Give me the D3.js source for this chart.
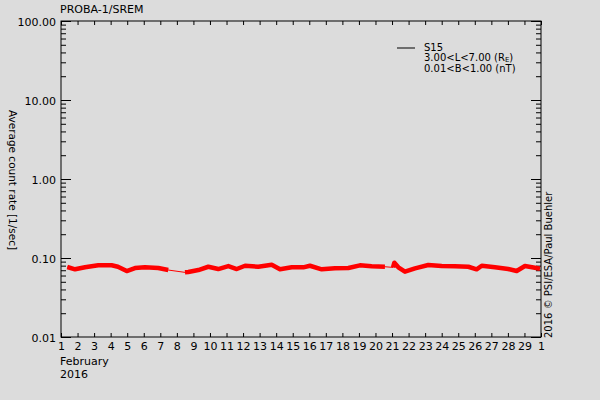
<!DOCTYPE html>
<html>
<head>
<meta charset="utf-8">
<script src="https://cdn.jsdelivr.net/npm/d3@7"></script>
<style>
  body { margin: 0; background: #dcdcdc; }
  svg text { font-family: "DejaVu Sans", sans-serif; font-size: 11px; fill: #000; }
</style>
</head>
<body>
<svg id="chart" width="600" height="400"></svg>
<script>
// Data (day of February 2016, count rate 1/sec)
const days = [1.38, 1.85, 2.45, 3.25, 4.06, 4.44, 4.97, 5.47, 6.07, 6.88, 7.48,
  8.49, 8.69, 9.30, 9.90, 10.50, 11.11, 11.62, 12.12, 12.92, 13.73, 14.23, 14.94,
  15.64, 16.04, 16.75, 17.55, 18.36, 19.06, 19.77, 20.57,
  21.06, 21.14, 21.38, 21.78, 22.39, 23.19, 24.00, 24.80, 25.61, 26.11, 26.42,
  27.22, 28.02, 28.53, 29.03, 29.63, 29.94];
const rates = [0.0769, 0.0719, 0.0762, 0.0808, 0.0808, 0.0775, 0.0684, 0.0746, 0.0762, 0.0746, 0.0704,
  0.0658, 0.0664, 0.0704, 0.0775, 0.0725, 0.0791, 0.0725, 0.0798, 0.0775, 0.0822, 0.0719, 0.0762,
  0.0762, 0.0798, 0.0719, 0.0740, 0.0746, 0.0808, 0.0784, 0.0775,
  0.0760, 0.0872, 0.0762, 0.0670, 0.0740, 0.0815, 0.0791, 0.0784, 0.0775, 0.0719, 0.0798,
  0.0762, 0.0725, 0.0684, 0.0791, 0.0753, 0.0731];
// data gaps (thin connecting line) start after these days
const gapStarts = [7.48, 20.57];

const dayTicks = d3.range(1, 31);
const decadeTicks = [0.01, 0.1, 1, 10, 100];
const minorTicks = [];
decadeTicks.slice(0, -1).forEach(d => { for (let k = 2; k <= 9; k++) minorTicks.push(d * k); });

const plot = { left: 61, right: 541, top: 21, bottom: 337 };
const svg = d3.select("#chart");

const x = d3.scaleLinear().domain([1, 30]).range([plot.left, plot.right]);
const y = d3.scaleLog().domain([0.01, 100]).range([plot.bottom, plot.top]);

// frame
svg.append("rect")
    .attr("x", plot.left).attr("y", plot.top)
    .attr("width", plot.right - plot.left).attr("height", plot.bottom - plot.top)
    .attr("fill", "none").attr("stroke", "#000").attr("stroke-width", 1);

// bottom axis with day labels
const xAxis = svg.append("g")
    .attr("transform", `translate(0,${plot.bottom})`)
    .call(d3.axisBottom(x).tickValues(dayTicks).tickSizeInner(-4).tickSizeOuter(0)
        .tickPadding(5).tickFormat(d => d > 29 ? d - 29 : d));
xAxis.select(".domain").remove();

// top axis, ticks only
const xTop = svg.append("g")
    .attr("transform", `translate(0,${plot.top})`)
    .call(d3.axisTop(x).tickValues(dayTicks).tickSizeInner(-4).tickSizeOuter(0).tickFormat(""));
xTop.select(".domain").remove();

// left axis: decades
const yAxis = svg.append("g")
    .attr("transform", `translate(${plot.left},0)`)
    .call(d3.axisLeft(y).tickValues(decadeTicks).tickSizeInner(-10).tickSizeOuter(0)
        .tickPadding(5).tickFormat(d3.format(".2f")));
yAxis.select(".domain").remove();
yAxis.selectAll("text").attr("dy", "0.4em");

const yMinor = svg.append("g")
    .attr("transform", `translate(${plot.left},0)`)
    .call(d3.axisLeft(y).tickValues(minorTicks).tickSizeInner(-5).tickSizeOuter(0).tickFormat(""));
yMinor.select(".domain").remove();

// right axis, ticks only
const yRight = svg.append("g")
    .attr("transform", `translate(${plot.right},0)`)
    .call(d3.axisRight(y).tickValues(decadeTicks).tickSizeInner(-10).tickSizeOuter(0).tickFormat(""));
yRight.select(".domain").remove();
const yRightMinor = svg.append("g")
    .attr("transform", `translate(${plot.right},0)`)
    .call(d3.axisRight(y).tickValues(minorTicks).tickSizeInner(-5).tickSizeOuter(0).tickFormat(""));
yRightMinor.select(".domain").remove();

svg.selectAll(".tick line").attr("stroke", "#000");
svg.selectAll(".tick text").attr("fill", "#000").style("font-size", "11px");

// data: thin line through everything, thick band over measured segments
const pts = days.map((d, i) => ({ day: d, rate: rates[i] }));
const line = d3.line().x(d => x(d.day)).y(d => y(d.rate));

svg.append("path")
    .datum(pts)
    .attr("fill", "none")
    .attr("stroke", "#ff0000")
    .attr("stroke-width", 1)
    .attr("d", line);

const segments = [];
let current = [];
pts.forEach(p => {
    current.push(p);
    if (gapStarts.includes(p.day)) { segments.push(current); current = []; }
});
segments.push(current);

svg.selectAll("path.band")
    .data(segments)
    .enter()
    .append("path")
    .attr("class", "band")
    .attr("fill", "none")
    .attr("stroke", "#ff0000")
    .attr("stroke-width", 4.5)
    .attr("stroke-linejoin", "round")
    .attr("d", line);

// texts
svg.append("text").attr("x", 60).attr("y", 13).text("PROBA-1/SREM");
svg.append("text").attr("x", 60).attr("y", 365).text("February");
svg.append("text").attr("x", 60).attr("y", 378).text("2016");

svg.append("text")
    .attr("transform", "translate(9,180) rotate(90)")
    .attr("text-anchor", "middle")
    .style("font-size", "10.5px")
    .text("Average count rate [1/sec]");

svg.append("text")
    .attr("transform", "translate(552,338) rotate(-90)")
    .style("font-size", "10px")
    .text("2016 \u00a9 PSI/ESA/Paul Buehler");

// legend
const lg = svg.append("g").style("font-size", "10px");
lg.append("line")
    .attr("x1", 397).attr("x2", 415).attr("y1", 48).attr("y2", 48)
    .attr("stroke", "#000");
lg.append("text").attr("x", 424).attr("y", 51).style("font-size", "10px").text("S15");
const l2 = lg.append("text").attr("x", 424).attr("y", 61).style("font-size", "10px");
l2.append("tspan").text("3.00<L<7.00 (R");
l2.append("tspan").attr("dy", 1).style("font-size", "7px").text("E");
l2.append("tspan").attr("dy", -1).text(")");
lg.append("text").attr("x", 424).attr("y", 72).style("font-size", "10px").text("0.01<B<1.00 (nT)");
</script>
</body>
</html>
